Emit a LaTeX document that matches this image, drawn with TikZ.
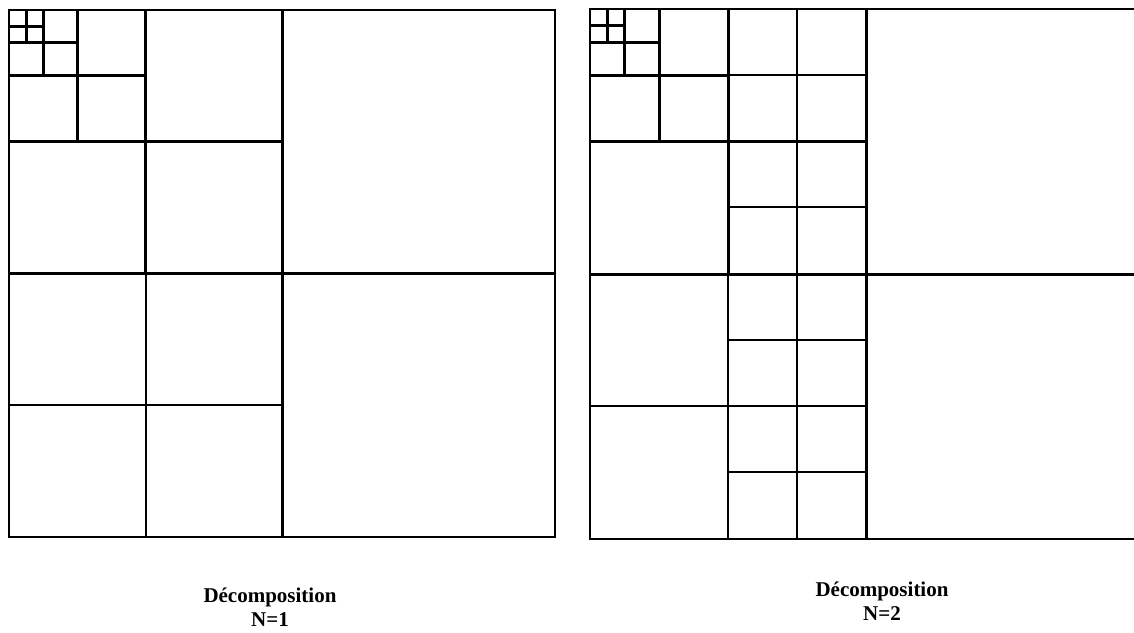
\documentclass[tikz,border=0pt]{standalone}
\usepackage{fontspec}
\setmainfont{Liberation Serif}
\begin{document}
\begin{tikzpicture}[x=1pt,y=-1pt,heavy/.style={line width=3pt},light/.style={line width=1.2pt},frame/.style={line width=2pt},
  caption/.style={font=\bfseries\fontsize{21}{24}\selectfont,align=center,inner sep=0pt}]
\useasboundingbox (0,0) rectangle (1134,632);
\clip (0,0) rectangle (1134,632);
% N=1
\draw[light] (146,273)--(146,537);\draw[light] (9,405)--(283,405);
\foreach \k in {1,2,4,8,16}{
  \draw[heavy] ({9+273/\k},10)--({9+273/\k},{10+527/\k});
  \draw[heavy] (9,{10+263.5/\k})--({9+546/\k},{10+263.5/\k});
}
\draw[frame] (9,10) rectangle (555,537);
% N=2
\draw[light] (728,273)--(728,539);\draw[light] (590,406)--(866,406);\draw[light] (797,9)--(797,539);
\foreach \y in {75,207,340,472}{\draw[light] (728,\y)--(866,\y);}
\foreach \k in {1,2,4,8,16}{
  \draw[heavy] ({590+276/\k},9)--({590+276/\k},{9+530/\k});
  \draw[heavy] (590,{9+265/\k})--({590+552/\k},{9+265/\k});
}
\draw[frame] (1134,9)--(590,9)--(590,539)--(1134,539);
\node[caption] (capone) at (270,607) {Décomposition\\N=1};
\node[caption] (captwo) at (882,601) {Décomposition\\N=2};
\end{tikzpicture}
\end{document}
